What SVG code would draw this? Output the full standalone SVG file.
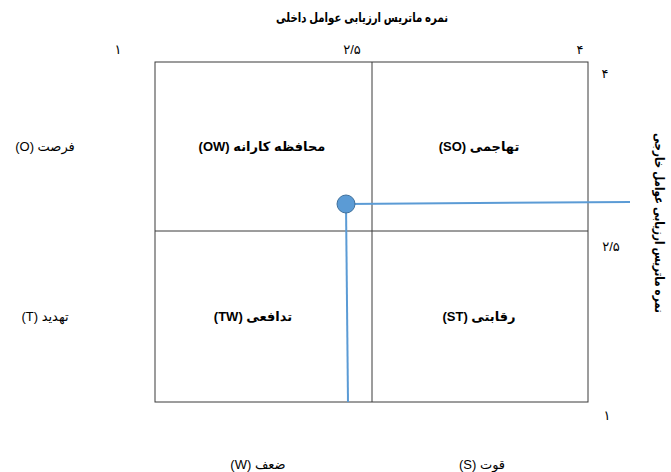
<svg xmlns="http://www.w3.org/2000/svg" width="671" height="472" viewBox="0 0 671 472">
<style>
text{font-family:"Liberation Sans","DejaVu Sans",sans-serif;font-size:13px;fill:#000}
.b{font-weight:bold}
.rtl{direction:rtl;unicode-bidi:embed}
.grid{stroke:#3a3a3a;stroke-width:1;fill:none}
.conn{stroke:#5B9BD5;stroke-width:2;fill:none}
</style>
<rect width="671" height="472" fill="#fff"/>
<g id="axes-labels">
<text class="b rtl" x="362" y="22" text-anchor="middle" font-size="13" textLength="172" lengthAdjust="spacingAndGlyphs">نمره ماتریس ارزیابی عوامل داخلی</text>
<text x="118" y="54" text-anchor="middle">۱</text>
<text x="352" y="54" text-anchor="middle">۲/۵</text>
<text x="580" y="54" text-anchor="middle">۴</text>
<text x="605" y="78" text-anchor="middle">۴</text>
<text x="611" y="251" text-anchor="middle">۲/۵</text>
<text x="607" y="420" text-anchor="middle">۱</text>
<text class="rtl" x="45" y="151" text-anchor="middle">فرصت (O)</text>
<text class="rtl" x="45" y="321" text-anchor="middle">تهدید (T)</text>
<text class="rtl" x="258" y="469" text-anchor="middle">ضعف (W)</text>
<text class="rtl" x="482" y="469" text-anchor="middle">قوت (S)</text>
<text class="b rtl" transform="translate(655,223) rotate(90)" x="0" y="0" text-anchor="middle" font-size="13" textLength="180" lengthAdjust="spacingAndGlyphs">نمره ماتریس ارزیابی عوامل خارجی</text>
</g>
<g id="grid">
<rect class="grid" x="155" y="62" width="433" height="340"/>
<line class="grid" x1="372" y1="62" x2="372" y2="402"/>
<line class="grid" x1="155" y1="231" x2="588" y2="231"/>
</g>
<g id="q-ow"><text class="b rtl" x="262" y="151" text-anchor="middle">محافظه کارانه (OW)</text></g>
<g id="q-so"><text class="b rtl" x="479" y="151" text-anchor="middle">تهاجمی (SO)</text></g>
<g id="q-tw"><text class="b rtl" x="253" y="321" text-anchor="middle">تدافعی (TW)</text></g>
<g id="q-st"><text class="b rtl" x="479" y="321" text-anchor="middle">رقابتی (ST)</text></g>
<g id="connectors">
<line class="conn" x1="346" y1="204" x2="630" y2="202"/>
<line class="conn" x1="346" y1="204" x2="348" y2="402"/>
</g>
<g id="point"><circle cx="346" cy="204" r="9" fill="#5B9BD5" stroke="#41719C" stroke-width="1"/></g>
</svg>
